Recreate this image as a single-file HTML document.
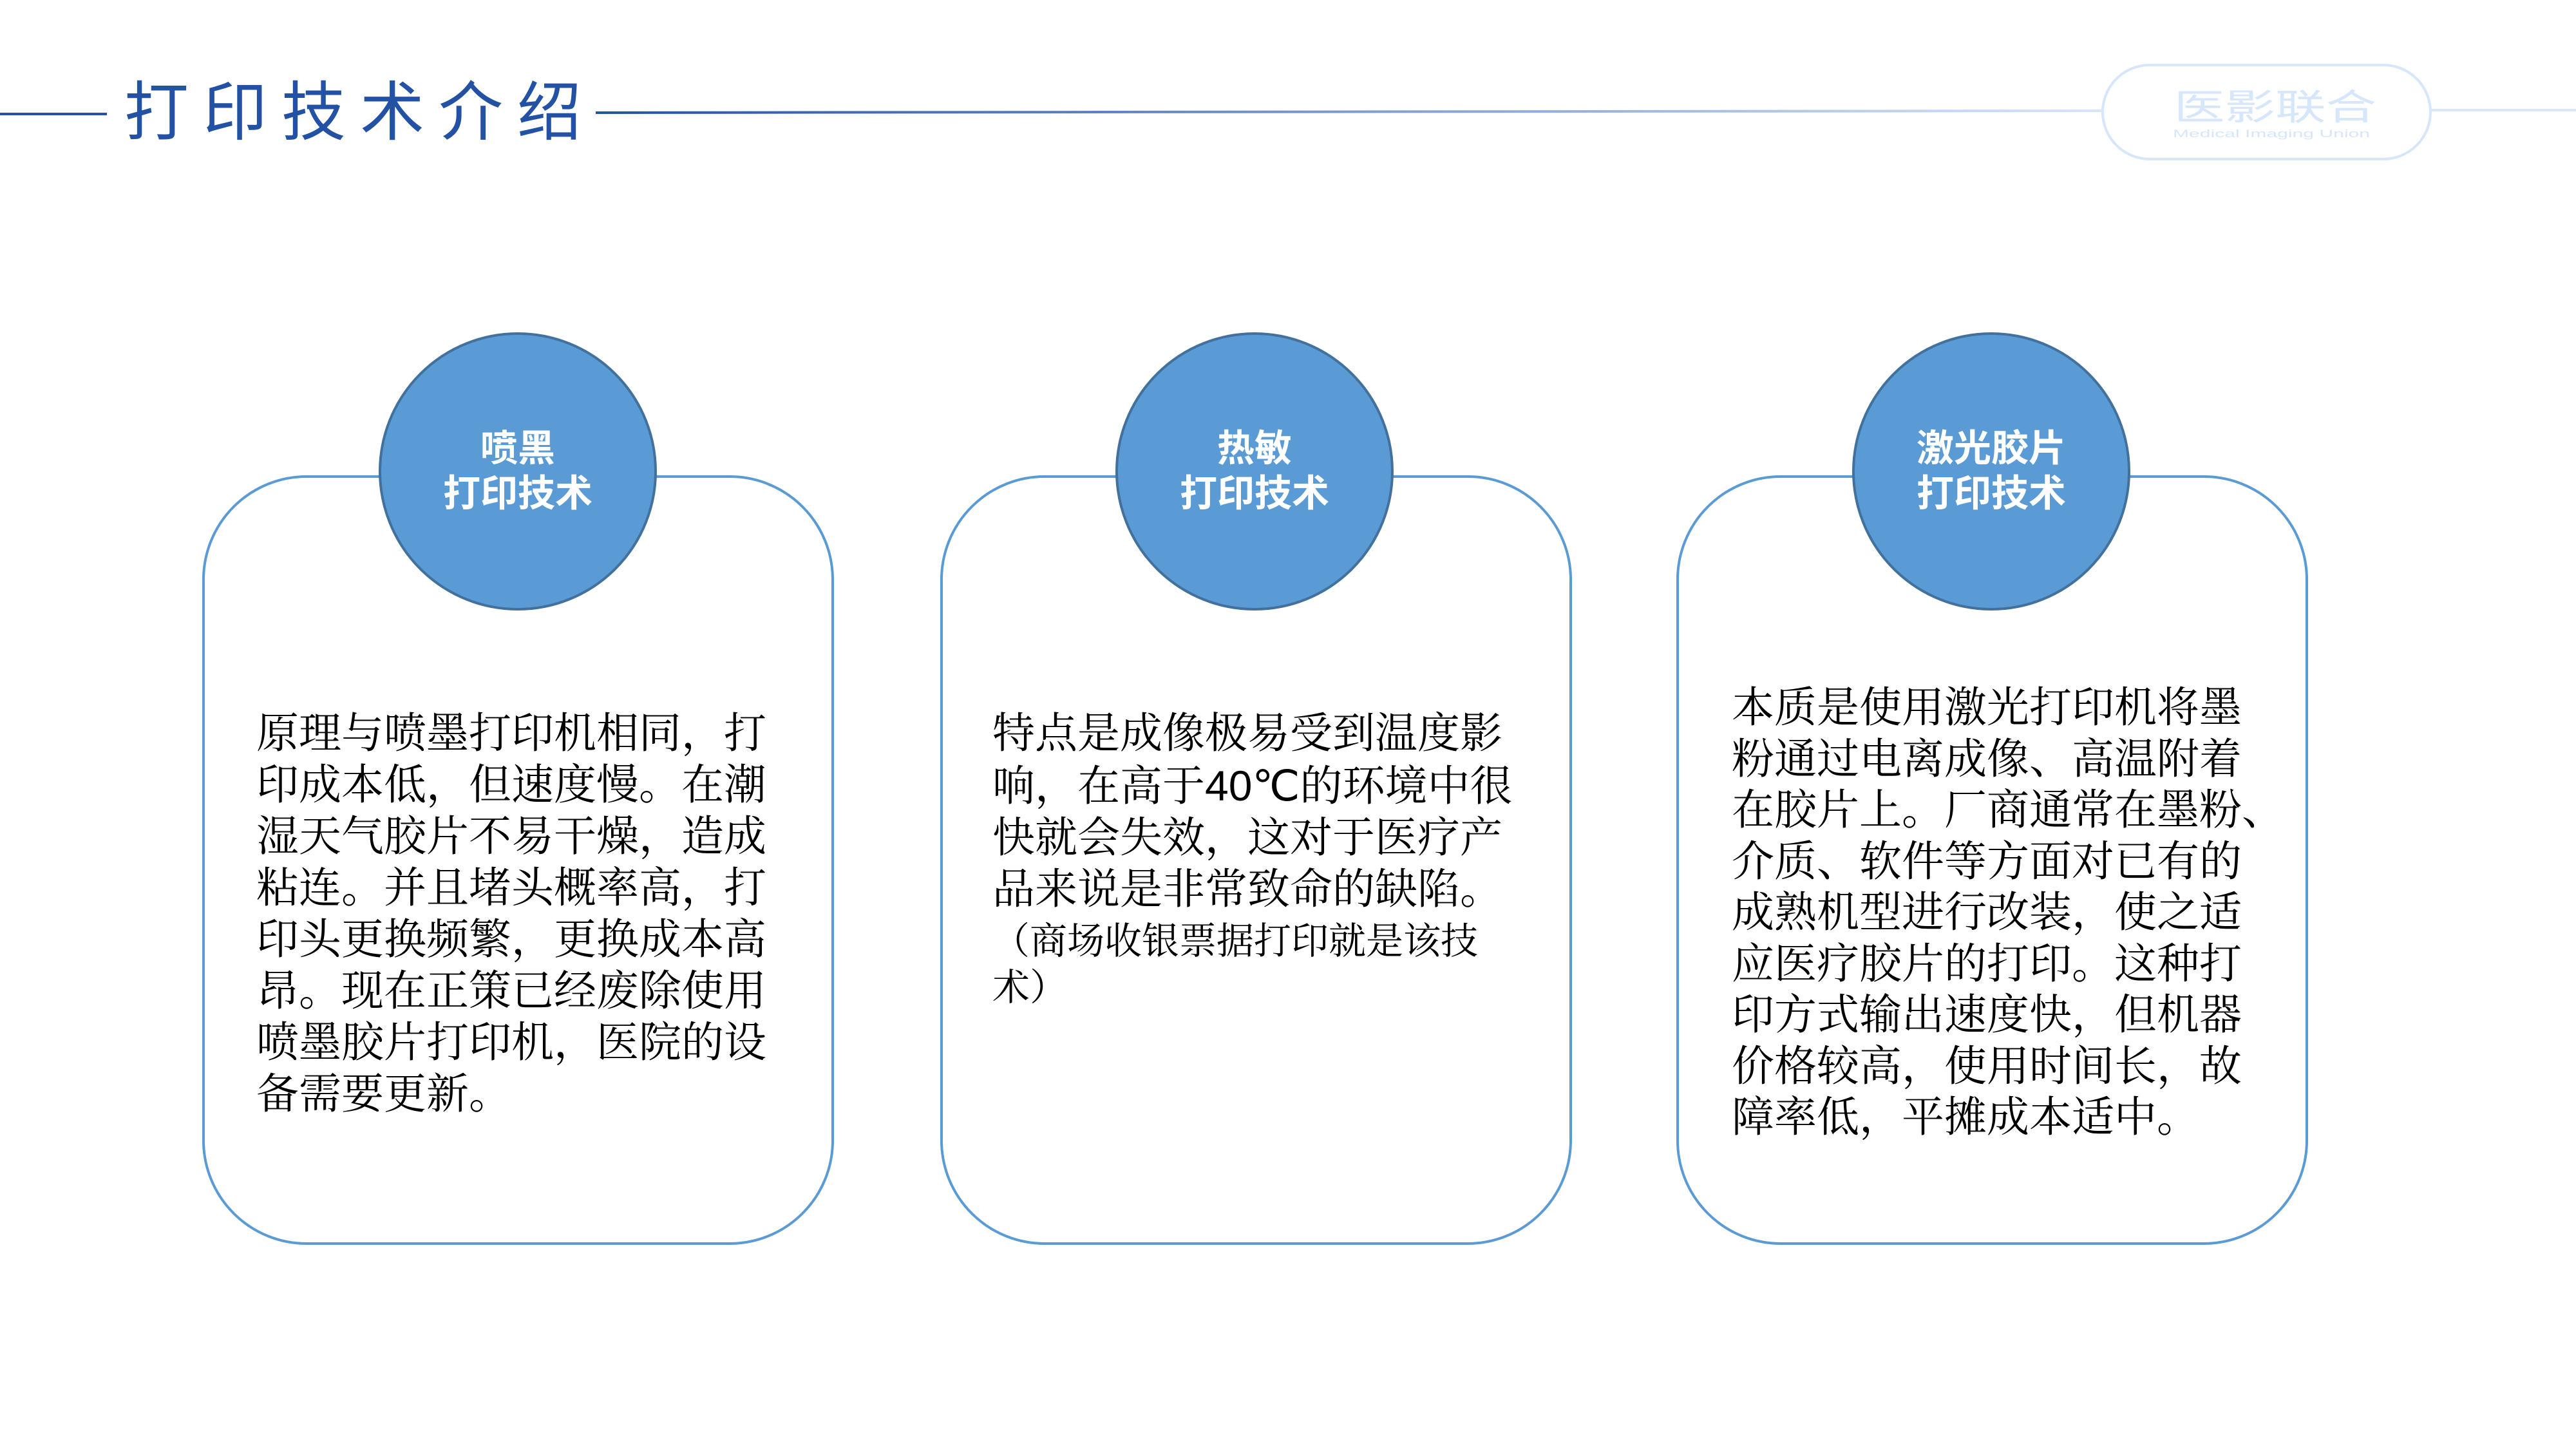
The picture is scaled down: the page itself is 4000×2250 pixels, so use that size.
<!DOCTYPE html>
<html><head><meta charset="utf-8"><style>
html,body{margin:0;padding:0;background:#fff;}
body{width:4000px;height:2250px;position:relative;overflow:hidden;}
.t{position:absolute;white-space:nowrap;font-family:"Liberation Serif","Noto Serif CJK SC",serif;color:#000;font-size:66px;line-height:80px;}
.c{position:absolute;color:#fff;font-family:"Liberation Sans","Noto Sans CJK SC",sans-serif;font-weight:bold;font-size:58px;line-height:70px;text-align:center;width:440px;}
.n{font-family:"Liberation Sans",sans-serif;}
.s{font-size:58px;line-height:72px;}
</style></head><body>
<svg width="4000" height="2250" style="position:absolute;left:0;top:0">
<defs><linearGradient id="g" x1="0" x2="1"><stop offset="0" stop-color="#2352a5"/><stop offset="1" stop-color="#d6e6fb"/></linearGradient></defs>
<line x1="0" y1="177" x2="166" y2="177" stroke="#2352a5" stroke-width="4"/>
<line x1="925" y1="175" x2="3265" y2="172" stroke="url(#g)" stroke-width="4"/>
<line x1="3774" y1="171" x2="4000" y2="171" stroke="#d6e6fb" stroke-width="4"/>
<rect x="3265" y="101" width="509" height="146" rx="73" fill="none" stroke="#d6e6fb" stroke-width="4"/>
<text x="3376" y="186" textLength="314" lengthAdjust="spacingAndGlyphs" font-family="Liberation Sans,Noto Sans CJK SC,sans-serif" font-size="56" fill="#d6e6fb">医影联合</text>
<text x="3374" y="213" textLength="306" lengthAdjust="spacingAndGlyphs" font-family="Liberation Sans,sans-serif" font-size="17" fill="#d6e6fb">Medical Imaging Union</text>
<g fill="none" stroke="#5b9bd5" stroke-width="4">
<rect x="316" y="740" width="977" height="1191" rx="160"/>
<rect x="1462" y="740" width="977" height="1191" rx="160"/>
<rect x="2605" y="740" width="977" height="1191" rx="160"/>
</g>
<g fill="#5b9bd5" stroke="#41719c" stroke-width="4">
<circle cx="804" cy="732" r="214"/>
<circle cx="1948" cy="732" r="214"/>
<circle cx="3092" cy="732" r="214"/>
</g>
</svg>
<div style="position:absolute;left:193px;top:110px;font-family:'Liberation Sans','Noto Sans CJK SC',sans-serif;font-size:100px;line-height:130px;letter-spacing:22px;color:#2352a5;white-space:nowrap">打印技术介绍</div>
<div class="c" style="left:584px;top:662px">喷黑<br>打印技术</div>
<div class="c" style="left:1728px;top:662px">热敏<br>打印技术</div>
<div class="c" style="left:2872px;top:662px">激光胶片<br>打印技术</div>
<div class="t" style="left:398px;top:1100px">原理与喷墨打印机相同，打<br>印成本低，但速度慢。在潮<br>湿天气胶片不易干燥，造成<br>粘连。并且堵头概率高，打<br>印头更换频繁，更换成本高<br>昂。现在正策已经废除使用<br>喷墨胶片打印机，医院的设<br>备需要更新。</div>
<div class="t" style="left:1541px;top:1100px">特点是成像极易受到温度影<br>响，在高于<span class="n">40℃</span>的环境中很<br>快就会失效，这对于医疗产<br>品来说是非常致命的缺陷。</div>
<div class="t s" style="left:1541px;top:1426px">（商场收银票据打印就是该技<br>术）</div>
<div class="t" style="left:2689px;top:1060px;line-height:79.5px">本质是使用激光打印机将墨<br>粉通过电离成像、高温附着<br>在胶片上。厂商通常在墨粉、<br>介质、软件等方面对已有的<br>成熟机型进行改装，使之适<br>应医疗胶片的打印。这种打<br>印方式输出速度快，但机器<br>价格较高，使用时间长，故<br>障率低，平摊成本适中。</div>
</body></html>
